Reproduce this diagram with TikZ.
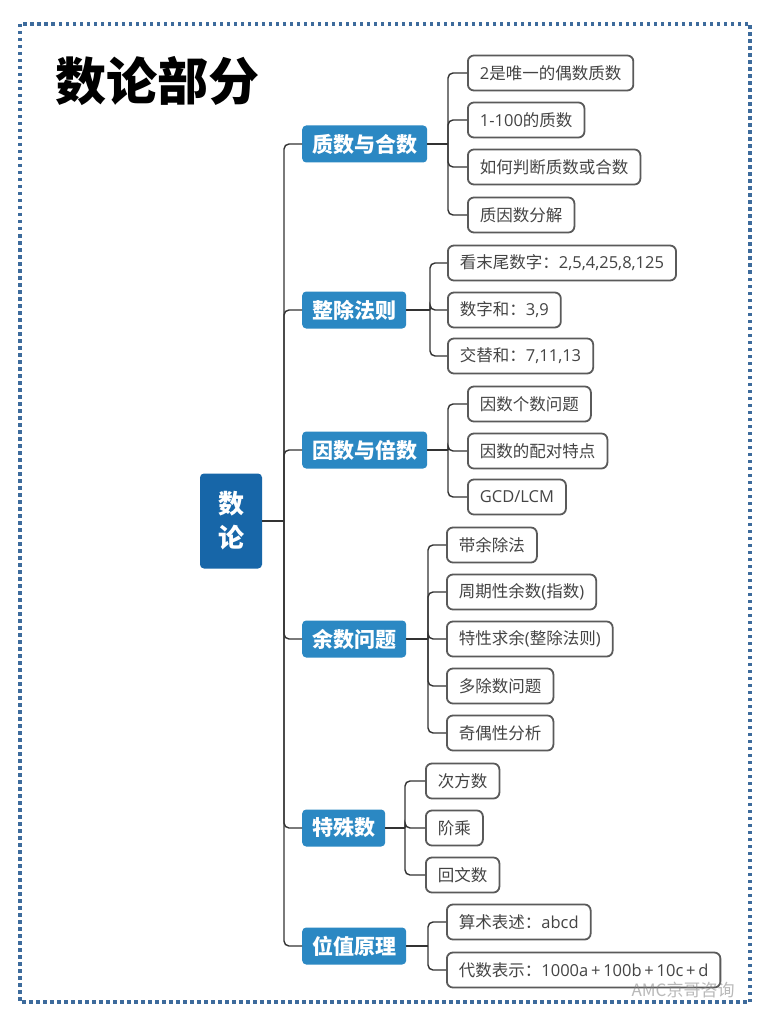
\documentclass[tikz,border=0pt]{standalone}
\usepackage{fontspec}
\setmainfont{Noto Sans CJK SC}
\newfontfamily\lat{Open Sans}
\newcommand{\la}[1]{{\lat #1}}
\usetikzlibrary{calc}
\definecolor{rootblue}{HTML}{1766A8}
\definecolor{brblue}{HTML}{2B88C3}
\definecolor{dotblue}{HTML}{3D6B9C}
\definecolor{lineg}{HTML}{333333}
\definecolor{leafb}{HTML}{5A5A5A}
\definecolor{leaft}{HTML}{444444}
\begin{document}
\begin{tikzpicture}[x=1pt,y=-1pt,
 rootbox/.style={fill=rootblue, rounded corners=4pt, text=white, font=\fontsize{26}{34}\selectfont\bfseries, minimum width=62pt, minimum height=95pt, align=center},
 brbox/.style={fill=brblue, rounded corners=4pt, text=white, font=\fontsize{21}{24}\selectfont\bfseries, minimum height=37pt, inner xsep=10pt, anchor=west},
 leafbox/.style={draw=leafb, line width=1.8pt, fill=white, rounded corners=6pt, text=leaft, font=\fontsize{16.5}{19}\selectfont, minimum height=35pt, inner xsep=12pt, anchor=west},
 conn/.style={draw=lineg, line width=1.4pt, rounded corners=5pt}]
\useasboundingbox[fill=white] (0,0) rectangle (766,1024);
\draw[dotblue, line width=3.5pt, dash pattern=on 3.5pt off 3.5pt] (20,24) rectangle (750,1002);
\node[font=\fontsize{51}{60}\selectfont\bfseries, anchor=west, inner sep=0pt] (title) at (55,81) {数论部分};
% root
\node[rootbox] (root) at (231,521) {数\\论};
\coordinate (tr) at (284,521);
% branches
\node[brbox] (b1) at (302,144) {质数与合数};
\node[brbox] (b2) at (302,310) {整除法则};
\node[brbox] (b3) at (302,450) {因数与倍数};
\node[brbox] (b4) at (302,639) {余数问题};
\node[brbox] (b5) at (302,828) {特殊数};
\node[brbox] (b6) at (302,946) {位值原理};
% junction x positions
\coordinate (j1) at (448,0);
\coordinate (j2) at (430,0);
\coordinate (j3) at (448,0);
\coordinate (j4) at (428,0);
\coordinate (j5) at (405,0);
\coordinate (j6) at (428,0);
% leaves
\node[leafbox] (l11) at (467,73) {\la{2}是唯一的偶数质数};
\node[leafbox] (l12) at (467,120) {\la{1-100}的质数};
\node[leafbox] (l13) at (467,167) {如何判断质数或合数};
\node[leafbox] (l14) at (467,215) {质因数分解};
\node[leafbox] (l21) at (447,263) {看末尾数字：\la{2,5,4,25,8,125}};
\node[leafbox] (l22) at (447,310) {数字和：\la{3,9}};
\node[leafbox] (l23) at (447,356) {交替和：\la{7,11,13}};
\node[leafbox] (l31) at (467,404) {因数个数问题};
\node[leafbox] (l32) at (467,451) {因数的配对特点};
\node[leafbox] (l33) at (467,497) {\la{GCD/LCM}};
\node[leafbox] (l41) at (446,545) {带余除法};
\node[leafbox] (l42) at (446,592) {周期性余数\la{(}指数\la{)}};
\node[leafbox] (l43) at (446,639) {特性求余\la{(}整除法则\la{)}};
\node[leafbox] (l44) at (446,686) {多除数问题};
\node[leafbox] (l45) at (446,733) {奇偶性分析};
\node[leafbox] (l51) at (425,781) {次方数};
\node[leafbox] (l52) at (425,828) {阶乘};
\node[leafbox] (l53) at (425,875) {回文数};
\node[leafbox] (l61) at (446,922) {算术表述：\la{abcd}};
\node[leafbox] (l62) at (446,970) {代数表示：\la{1000a\,+\,100b\,+\,10c\,+\,d}};
% trunk
\draw[conn] (root.east) -- (tr);
\foreach \b in {b1,b2,b3,b4,b5,b6} \draw[conn] (tr) |- (\b.west);
% branch to leaves
\draw[conn] (b1.east) -- (b1.east -| j1);
\foreach \l in {l11,l12,l13,l14} \draw[conn] (b1.east -| j1) |- (\l.west);
\draw[conn] (b2.east) -- (b2.east -| j2);
\foreach \l in {l21,l22,l23} \draw[conn] (b2.east -| j2) |- (\l.west);
\draw[conn] (b3.east) -- (b3.east -| j3);
\foreach \l in {l31,l32,l33} \draw[conn] (b3.east -| j3) |- (\l.west);
\draw[conn] (b4.east) -- (b4.east -| j4);
\foreach \l in {l41,l42,l43,l44,l45} \draw[conn] (b4.east -| j4) |- (\l.west);
\draw[conn] (b5.east) -- (b5.east -| j5);
\foreach \l in {l51,l52,l53} \draw[conn] (b5.east -| j5) |- (\l.west);
\draw[conn] (b6.east) -- (b6.east -| j6);
\foreach \l in {l61,l62} \draw[conn] (b6.east -| j6) |- (\l.west);
% watermark
\node[text=gray, opacity=0.55, font=\fontsize{17}{20}\selectfont] (wm) at (683,990) {AMC京哥咨询};
\end{tikzpicture}
\end{document}
